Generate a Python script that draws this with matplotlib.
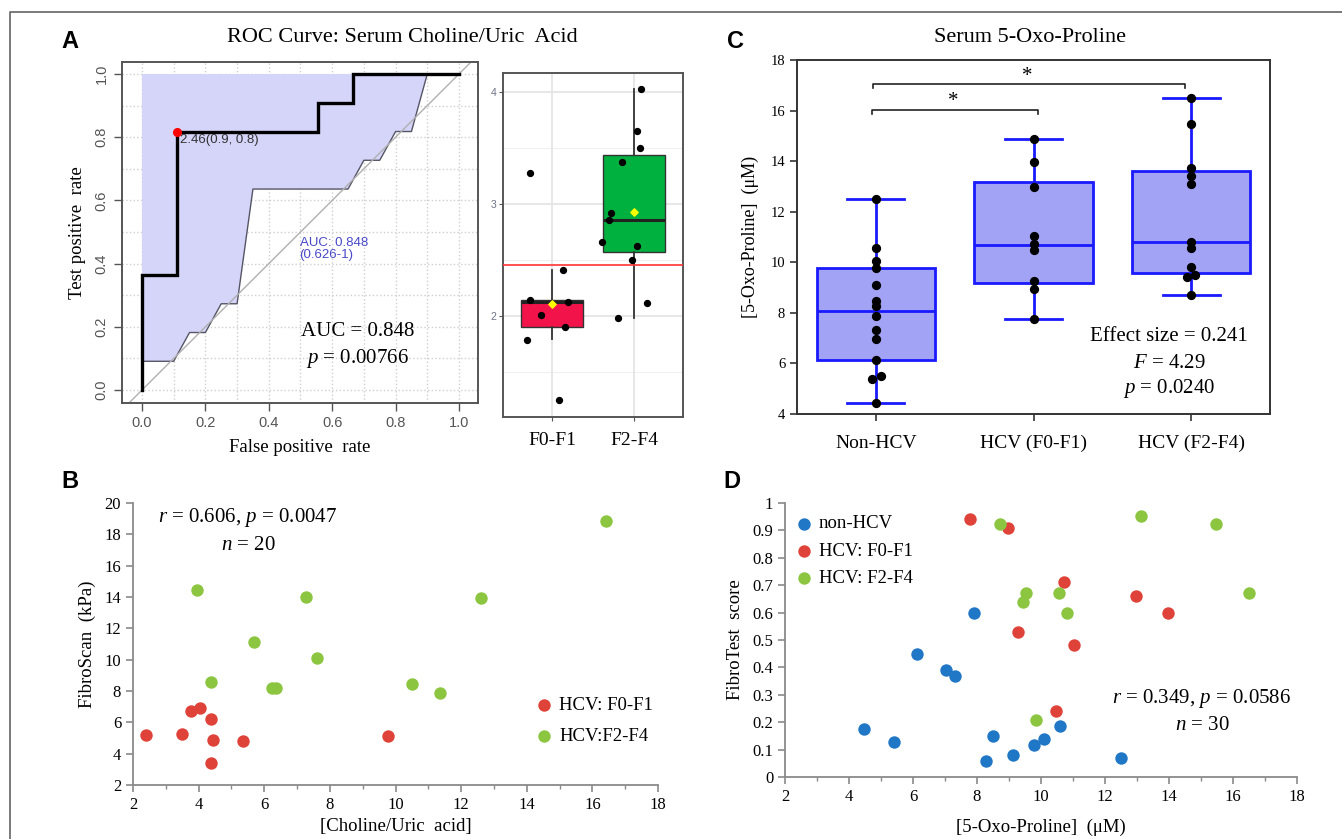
import matplotlib
matplotlib.use('Agg')
import matplotlib.pyplot as plt
from matplotlib.lines import Line2D
from matplotlib.ticker import MultipleLocator, FixedLocator
import numpy as np

plt.rcParams['mathtext.fontset'] = 'custom'
plt.rcParams['mathtext.rm'] = 'Liberation Serif'
plt.rcParams['mathtext.it'] = 'Liberation Serif:italic'
SERIF = 'Liberation Serif'
SANS = 'Liberation Sans'

# ---------------- data ----------------
# Panel A: ROC
roc_fpr = [0, 0, 0.111, 0.111, 0.556, 0.556, 0.667, 0.667, 1.0]
roc_tpr = [0, 0.364, 0.364, 0.818, 0.818, 0.909, 0.909, 1.0, 1.0]
ci_fpr = [0, 0.1, 0.15, 0.2, 0.25, 0.3, 0.35, 0.65, 0.7, 0.75, 0.8, 0.85, 0.9]
ci_tpr_low = [0.091, 0.091, 0.182, 0.182, 0.273, 0.273, 0.636, 0.636, 0.727, 0.727, 0.818, 0.818, 1.0]
cut_fpr, cut_tpr = 0.111, 0.818
roc_ticks = [0, 0.2, 0.4, 0.6, 0.8, 1.0]
roc_ticklabels = ['0.0', '0.2', '0.4', '0.6', '0.8', '1.0']

# Panel A: box plot
a_groups = ['F0-F1', 'F2-F4']
a_q1 = [1.90, 2.57]
a_med = [2.13, 2.86]
a_q3 = [2.14, 3.44]
a_lo = [1.80, 1.98]
a_hi = [2.41, 4.03]
a_mean = [2.11, 2.93]
a_f01_vals = [3.28, 2.41, 2.14, 2.13, 2.01, 1.90, 1.79, 1.25]
a_f01_x = [0.73, 1.13, 0.73, 1.19, 0.87, 1.16, 0.69, 1.09]
a_f24_vals = [4.03, 3.65, 3.50, 3.38, 2.92, 2.86, 2.66, 2.63, 2.50, 2.12, 1.98]
a_f24_x = [2.09, 2.04, 2.07, 1.85, 1.72, 1.69, 1.61, 2.04, 1.98, 2.16, 1.80]
a_cutoff = 2.46

# Panel B
b_f01_x = [2.40, 3.49, 3.77, 4.04, 4.39, 4.43, 4.39, 5.35, 9.78]
b_f01_y = [5.17, 5.28, 6.71, 6.89, 6.22, 4.87, 3.39, 4.81, 5.11]
b_f24_x = [3.95, 4.37, 5.68, 6.24, 6.35, 7.28, 7.61, 10.49, 11.36, 12.60, 16.41]
b_f24_y = [14.43, 8.60, 11.11, 8.17, 8.17, 14.00, 10.08, 8.43, 7.87, 13.94, 18.86]

# Panel C
c_groups = ['Non-HCV', 'HCV (F0-F1)', 'HCV (F2-F4)']
c_q1 = [6.12, 9.18, 9.58]
c_med = [8.06, 10.69, 10.82]
c_q3 = [9.77, 13.19, 13.61]
c_lo = [4.42, 7.75, 8.69]
c_hi = [12.51, 14.88, 16.51]
c_non = [12.51, 10.55, 10.07, 9.76, 9.10, 8.48, 8.28, 7.86, 7.31, 6.96, 6.12, 5.49, 5.40, 4.42]
c_non_dx = [0, 0, 0, 0, 0, 0, 0, 0, 0, 0, 0, 0.03, -0.024, 0]
c_f01 = [14.88, 13.96, 12.97, 11.03, 10.73, 10.47, 9.27, 8.94, 7.75]
c_f01_dx = [0, 0, 0, 0, 0, 0, 0, 0, 0]
c_f24 = [16.51, 15.46, 13.73, 13.43, 13.09, 10.82, 10.55, 9.81, 9.49, 9.41, 8.69]
c_f24_dx = [0, 0, 0, 0, 0, 0, 0, 0, 0.027, -0.025, 0]

# Panel D
d_non_x = [4.47, 5.40, 6.13, 7.03, 7.32, 7.91, 8.29, 8.49, 9.12, 9.77, 10.08, 10.59, 12.50]
d_non_y = [0.177, 0.127, 0.449, 0.39, 0.368, 0.599, 0.057, 0.149, 0.079, 0.116, 0.139, 0.187, 0.070]
d_f01_x = [7.77, 8.98, 9.28, 10.46, 10.71, 11.04, 12.96, 13.96]
d_f01_y = [0.941, 0.91, 0.529, 0.24, 0.71, 0.48, 0.659, 0.60]
d_f24_x = [8.71, 9.52, 9.44, 9.83, 10.55, 10.82, 13.13, 15.48, 16.50]
d_f24_y = [0.922, 0.67, 0.64, 0.209, 0.67, 0.599, 0.952, 0.922, 0.67]
d_yticks = [0, 0.1, 0.2, 0.3, 0.4, 0.5, 0.6, 0.7, 0.8, 0.9, 1.0]
d_yticklabels = ['0', '0.1', '0.2', '0.3', '0.4', '0.5', '0.6', '0.7', '0.8', '0.9', '1']

# ---------------- figure ----------------
W, H = 1342, 839
fig = plt.figure(figsize=(W / 100, H / 100), dpi=100)


def ax_px(x0, y0, x1, y1):
    return fig.add_axes([x0 / W, 1 - y1 / H, (x1 - x0) / W, (y1 - y0) / H])


def ftext(x, y, s, **kw):
    fig.text(x / W, 1 - y / H, s, **kw)


# figure border (top & left)
fig.add_artist(Line2D([9.5 / W, 9.5 / W, 1.0], [0, 1 - 12 / H, 1 - 12 / H],
                      transform=fig.transFigure, color='#707070', lw=1.3))

# panel letters
for lab, (x, y) in {'A': (70, 42), 'B': (70, 482), 'C': (735, 42), 'D': (732, 482)}.items():
    ftext(x, y, lab, family=SANS, weight='bold', fontsize=17, ha='center', va='center')

# ---------------- Panel A: ROC ----------------
ax = ax_px(122, 62, 478, 403)
ax.set_xlim(-0.063, 1.06)
ax.set_ylim(-0.041, 1.038)
ax.xaxis.set_major_locator(FixedLocator(roc_ticks))
ax.yaxis.set_major_locator(FixedLocator(roc_ticks))
ax.xaxis.set_minor_locator(FixedLocator([0.1, 0.3, 0.5, 0.7, 0.9]))
ax.yaxis.set_minor_locator(FixedLocator([0.1, 0.3, 0.5, 0.7, 0.9]))
ax.grid(True, which='both', color='#cfcfcf', ls=':', lw=1.0)
ax.set_axisbelow(True)
ax.fill([0] + ci_fpr, [1.0] + ci_tpr_low, color='#d5d5fa', lw=0, zorder=1)
ax.plot(ci_fpr, ci_tpr_low, color='#555566', lw=1.0, zorder=2)
ax.axline((0, 0), (1, 1), color='#b0b0b0', lw=1.0, zorder=2)
ax.plot(roc_fpr, roc_tpr, color='black', lw=2.4, zorder=3, solid_joinstyle='miter')
ax.plot([cut_fpr], [cut_tpr], 'o', color='#ff0000', ms=5.5, zorder=4)
ax.text(cut_fpr + 0.008, cut_tpr - 0.008, '2.46(0.9, 0.8)', family=SANS, fontsize=9.5,
        color='#333333', ha='left', va='top', zorder=5)
ax.text(0.497, 0.485, 'AUC: 0.848\n(0.626-1)', family=SANS, fontsize=9.5, color='#4848c8',
        ha='left', va='top', linespacing=1.0)
ax.text(0.68, 0.185, 'AUC = 0.848', family=SERIF, fontsize=15, ha='center', va='center')
ax.text(0.68, 0.10, r'$p$ = 0.00766', family=SERIF, fontsize=15, ha='center', va='center')
ax.set_xticklabels(roc_ticklabels)
ax.set_yticklabels(roc_ticklabels, rotation=90, va='center')
ax.tick_params(which='major', direction='out', length=6, color='#555555', labelsize=10.5,
               labelcolor='#555555', width=1.0)
ax.tick_params(which='minor', length=0)
for lbl in ax.get_xticklabels() + ax.get_yticklabels():
    lbl.set_family(SANS)
for s in ax.spines.values():
    s.set_color('#555555')
    s.set_linewidth(1.4)
ax.set_xlabel('False positive  rate', family=SERIF, fontsize=13.5, labelpad=6)
ax.set_ylabel('Test positive  rate', family=SERIF, fontsize=13.5, labelpad=6)
ftext(402, 38, 'ROC Curve: Serum Choline/Uric  Acid', family=SERIF, fontsize=16,
      ha='center', va='center')

# ---------------- Panel A: box plot ----------------
ax = ax_px(503, 73, 683, 417)
ax.set_xlim(0.4, 2.6)
ax.set_ylim(1.10, 4.17)
for y in [1.5, 2.5, 3.5]:
    ax.axhline(y, color='#f0f0f0', lw=0.8, zorder=0)
for y in [2, 3, 4]:
    ax.axhline(y, color='#e3e3e3', lw=1.2, zorder=0)
for x in [1, 2]:
    ax.axvline(x, color='#e3e3e3', lw=1.2, zorder=0)
stats = [dict(med=a_med[i], q1=a_q1[i], q3=a_q3[i], whislo=a_lo[i], whishi=a_hi[i],
              fliers=[], label=a_groups[i]) for i in range(2)]
bp = ax.bxp(stats, positions=[1, 2], widths=0.76, patch_artist=True, showcaps=False,
            boxprops=dict(edgecolor='#333333', lw=1.0),
            whiskerprops=dict(color='#333333', lw=1.3),
            medianprops=dict(color='#222222', lw=2.2), zorder=2)
for patch, c in zip(bp['boxes'], ['#f2134b', '#00b140']):
    patch.set_facecolor(c)
ax.axhline(a_cutoff, color='#ff3333', lw=1.2, zorder=3)
ax.scatter(a_f01_x, a_f01_vals, s=18, color='black', zorder=4)
ax.scatter(a_f24_x, a_f24_vals, s=18, color='black', zorder=4)
ax.scatter([1, 2], a_mean, marker='D', s=14, color='#ffff00', zorder=5)
ax.set_xticks([1, 2])
ax.set_xticklabels(a_groups, family=SERIF, fontsize=14)
ax.set_yticks([2, 3, 4])
ax.set_yticklabels(['2', '3', '4'], family=SANS, fontsize=7.5, color='#707088')
ax.tick_params(axis='both', direction='out', length=3, color='#555555', width=0.8)
ax.tick_params(axis='x', pad=8)
ax.tick_params(axis='y', pad=2)
for s in ax.spines.values():
    s.set_color('#555555')
    s.set_linewidth(1.4)

# ---------------- Panel C ----------------
ax = ax_px(797, 60, 1270, 414)
ax.set_xlim(0.5, 3.5)
ax.set_ylim(4, 18)
stats = [dict(med=c_med[i], q1=c_q1[i], q3=c_q3[i], whislo=c_lo[i], whishi=c_hi[i],
              fliers=[], label=c_groups[i]) for i in range(3)]
blue = '#1a1aff'
bp = ax.bxp(stats, positions=[1, 2, 3], widths=0.75, capwidths=0.36, patch_artist=True,
            boxprops=dict(facecolor='#a3a3f6', edgecolor=blue, lw=2.0),
            whiskerprops=dict(color=blue, lw=2.0),
            capprops=dict(color=blue, lw=2.0),
            medianprops=dict(color=blue, lw=2.0), zorder=2)
for pos, vals, dx in [(1, c_non, c_non_dx), (2, c_f01, c_f01_dx), (3, c_f24, c_f24_dx)]:
    ax.scatter(np.array(dx) + pos, vals, s=32, color='black', zorder=4)
# significance brackets
for (x0, x1, y, ys) in [(0.976, 2.027, 16.02, 16.4), (0.98, 2.96, 17.04, 17.4)]:
    ax.plot([x0, x0, x1, x1], [y - 0.16, y, y, y - 0.16], color='#222222', lw=1.2)
    ax.text((x0 + x1) / 2 - 0.01, ys - 0.05, '*', family=SERIF, fontsize=15,
            ha='center', va='center')
ax.text(2.86, 7.07, 'Effect size = 0.241', family=SERIF, fontsize=15, ha='center', va='center')
ax.text(2.86, 6.01, r'$F$ = 4.29', family=SERIF, fontsize=15, ha='center', va='center')
ax.text(2.86, 5.00, r'$p$ = 0.0240', family=SERIF, fontsize=15, ha='center', va='center')
ax.set_xticks([1, 2, 3])
ax.set_xticklabels(c_groups, family=SERIF, fontsize=14)
ax.set_yticks(range(4, 19, 2))
ax.set_yticklabels([str(v) for v in range(4, 19, 2)], family=SERIF, fontsize=10.5)
ax.tick_params(axis='both', direction='out', length=5, width=1.2, color='#333333')
ax.tick_params(axis='x', pad=10)
for s in ax.spines.values():
    s.set_color('#333333')
    s.set_linewidth(1.4)
ax.set_ylabel('[5-Oxo-Proline]  (μM)', family=SERIF, fontsize=13, labelpad=8)
ftext(1030, 38, 'Serum 5-Oxo-Proline', family=SERIF, fontsize=16, ha='center', va='center')

# ---------------- Panel B ----------------
red, green, bluec = '#de4239', '#8cc540', '#1f77c6'
ax = ax_px(133, 503, 658, 785)
ax.set_xlim(2, 18)
ax.set_ylim(2, 20)
ax.scatter(b_f01_x, b_f01_y, s=80, color=red, lw=0, label='HCV: F0-F1', zorder=3)
ax.scatter(b_f24_x, b_f24_y, s=80, color=green, lw=0, label='HCV:F2-F4', zorder=3)
ax.xaxis.set_major_locator(MultipleLocator(2))
ax.xaxis.set_minor_locator(MultipleLocator(1))
ax.yaxis.set_major_locator(MultipleLocator(2))
ax.text(5.5, 19.1, r'$r$ = 0.606, $p$ = 0.0047', family=SERIF, fontsize=15, ha='center', va='center')
ax.text(5.5, 17.3, r'$n$ = 20', family=SERIF, fontsize=15, ha='center', va='center')
ax.legend(loc='center left', bbox_to_anchor=(0.765, 0.228), frameon=False,
          prop=dict(family=SERIF, size=13.5), handletextpad=0.3, labelspacing=0.75,
          borderaxespad=0, borderpad=0, handlelength=1.0, scatterpoints=1)
ax.set_xlabel('[Choline/Uric  acid]', family=SERIF, fontsize=13.5, labelpad=4)
ax.set_ylabel('FibroScan  (kPa)', family=SERIF, fontsize=13.5, labelpad=6)

# ---------------- Panel D ----------------
ax2 = ax_px(785, 503, 1297, 777)
ax2.set_xlim(2, 18)
ax2.set_ylim(0, 1)
ax2.scatter(d_non_x, d_non_y, s=80, color=bluec, lw=0, label='non-HCV', zorder=3)
ax2.scatter(d_f01_x, d_f01_y, s=80, color=red, lw=0, label='HCV: F0-F1', zorder=3)
ax2.scatter(d_f24_x, d_f24_y, s=80, color=green, lw=0, label='HCV: F2-F4', zorder=3)
ax2.xaxis.set_major_locator(MultipleLocator(2))
ax2.xaxis.set_minor_locator(MultipleLocator(1))
ax2.yaxis.set_major_locator(FixedLocator(d_yticks))
ax2.set_yticklabels(d_yticklabels)
ax2.text(15.03, 0.287, r'$r$ = 0.349, $p$ = 0.0586', family=SERIF, fontsize=15, ha='center', va='center')
ax2.text(15.03, 0.189, r'$n$ = 30', family=SERIF, fontsize=15, ha='center', va='center')
ax2.legend(loc='center left', bbox_to_anchor=(0.018, 0.8235), frameon=False,
           prop=dict(family=SERIF, size=13.5), handletextpad=0.3, labelspacing=0.55,
           borderaxespad=0, borderpad=0, handlelength=1.0, scatterpoints=1)
ax2.set_xlabel('[5-Oxo-Proline]  (μM)', family=SERIF, fontsize=13.5, labelpad=10)
ax2.set_ylabel('FibroTest  score', family=SERIF, fontsize=13.5, labelpad=6)

for a in (ax, ax2):
    for k in ('top', 'right'):
        a.spines[k].set_visible(False)
    for k in ('left', 'bottom'):
        a.spines[k].set_color('#8a8a8a')
        a.spines[k].set_linewidth(1.3)
    a.tick_params(which='major', direction='out', length=5, color='#8a8a8a', width=1.2,
                  labelsize=12)
    a.tick_params(which='minor', direction='out', length=3, color='#8a8a8a', width=1.0)
    for lbl in a.get_xticklabels() + a.get_yticklabels():
        lbl.set_family(SERIF)

fig.savefig('out.png', dpi=100)
